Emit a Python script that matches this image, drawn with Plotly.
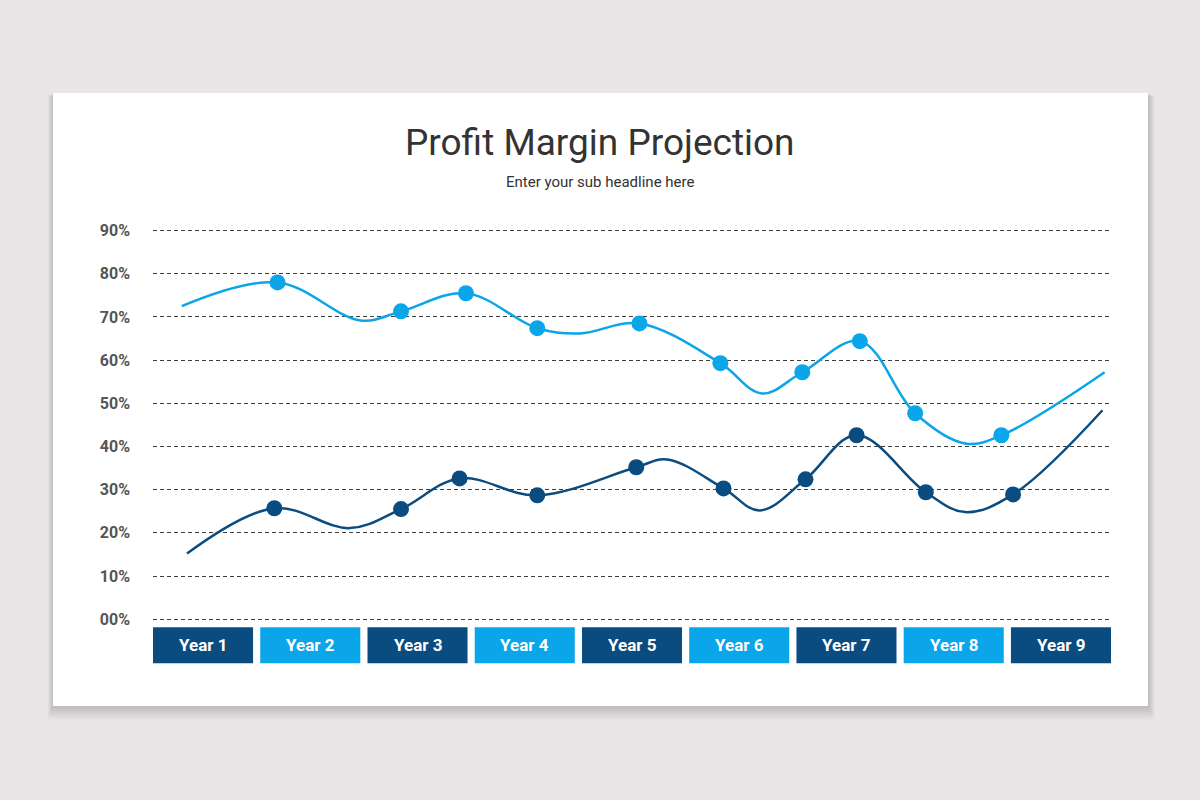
import plotly.graph_objects as go

# Data (x in year units, 0..9 across the year bar)
years = ["Year 1", "Year 2", "Year 3", "Year 4", "Year 5", "Year 6", "Year 7", "Year 8", "Year 9"]

light_x = [0.27, 1.17, 1.95, 2.33, 2.94, 3.61, 4.01, 4.57, 5.33, 5.72, 6.10, 6.64, 7.16, 7.63, 7.97, 8.94]
light_y = [72.5, 78.0, 69.2, 71.3, 75.5, 67.4, 66.2, 68.5, 59.3, 52.3, 57.2, 64.4, 47.7, 40.7, 42.6, 57.2]
light_marked = [0, 1, 0, 1, 1, 1, 0, 1, 1, 0, 1, 1, 1, 0, 1, 0]

dark_x = [0.32, 1.14, 1.85, 2.33, 2.88, 3.61, 4.54, 4.83, 5.36, 5.70, 6.13, 6.61, 7.26, 7.63, 8.08, 8.92]
dark_y = [15.2, 25.7, 21.1, 25.5, 32.6, 28.7, 35.2, 37.0, 30.3, 25.2, 32.4, 42.6, 29.4, 24.8, 28.9, 48.4]
dark_marked = [0, 1, 0, 1, 1, 1, 1, 0, 1, 0, 1, 1, 1, 0, 1, 0]

y_ticks = [0, 10, 20, 30, 40, 50, 60, 70, 80, 90]
y_labels = ["00%", "10%", "20%", "30%", "40%", "50%", "60%", "70%", "80%", "90%"]

LIGHT = "#0ba5ea"
DARK = "#0b4c80"
BG = "#e8e6e7"

# plot area in pixels
L, R, T, B = 153, 1111, 222, 671
W, H = R - L, B - T


def px(x):
    return (x - L) / W


def py(y):
    return (B - y) / H


fig = go.Figure()

for xs, ys, marked, color in [(light_x, light_y, light_marked, LIGHT),
                              (dark_x, dark_y, dark_marked, DARK)]:
    fig.add_trace(go.Scatter(
        x=xs, y=ys, mode="lines",
        line=dict(color=color, width=2.5, shape="spline", smoothing=1.05),
        hoverinfo="skip", showlegend=False,
    ))
    fig.add_trace(go.Scatter(
        x=[x for x, m in zip(xs, marked) if m],
        y=[y for y, m in zip(ys, marked) if m],
        mode="markers",
        marker=dict(color=color, size=16),
        showlegend=False,
    ))

shapes = []
# soft shadow under the card
for k in range(1, 15):
    shapes.append(dict(type="rect", xref="paper", yref="paper", layer="below",
                       x0=px(53 - k * 0.4), x1=px(1148 + k * 0.5),
                       y0=py(706 + k), y1=py(93 + k * 0.2),
                       fillcolor="black", opacity=0.012, line=dict(width=0)))
shapes.append(dict(type="rect", xref="paper", yref="paper", layer="below",
                   x0=px(53), x1=px(1148), y0=py(706), y1=py(93),
                   fillcolor="white", line=dict(width=0)))

# year bar
box_w = 0.94
gap = (9 - 9 * box_w) / 8
annotations = []
for i, label in enumerate(years):
    x0 = i * (box_w + gap)
    shapes.append(dict(type="rect", xref="x", yref="y", layer="above",
                       x0=x0, x1=x0 + box_w, y0=-10.2, y1=-1.85,
                       fillcolor=DARK if i % 2 == 0 else LIGHT, line=dict(width=0)))
    annotations.append(dict(x=x0 + box_w / 2, y=-6.0, xref="x", yref="y",
                            text=label, showarrow=False,
                            font=dict(family="Roboto", size=17, color="white", weight="bold")))

annotations.append(dict(text="Profit Margin Projection", xref="paper", yref="paper",
                        x=px(600), y=py(142), showarrow=False,
                        xanchor="center", yanchor="middle",
                        font=dict(family="Roboto", size=37, color="#333333")))
annotations.append(dict(text="Enter your sub headline here", xref="paper", yref="paper",
                        x=px(600), y=py(182), showarrow=False,
                        xanchor="center", yanchor="middle",
                        font=dict(family="Roboto", size=15, color="#333333")))

fig.update_layout(
    width=1200, height=800,
    margin=dict(l=L, r=1200 - R, t=T, b=800 - B),
    paper_bgcolor=BG, plot_bgcolor="rgba(0,0,0,0)",
    shapes=shapes, annotations=annotations,
    xaxis=dict(range=[0, 9], visible=False, fixedrange=True),
    yaxis=dict(range=[-12, 92], tickvals=y_ticks, ticktext=y_labels,
               showgrid=True, gridcolor="#3d3d3d", griddash="4px,3px", gridwidth=1,
               zeroline=False, showline=False, ticks="", ticklabelstandoff=22,
               tickfont=dict(family="Roboto", size=16, color="#555555", weight="bold"),
               fixedrange=True),
)

fig.write_html("out.html", config={"displayModeBar": False},
               post_script="document.body.style.margin='0';")
